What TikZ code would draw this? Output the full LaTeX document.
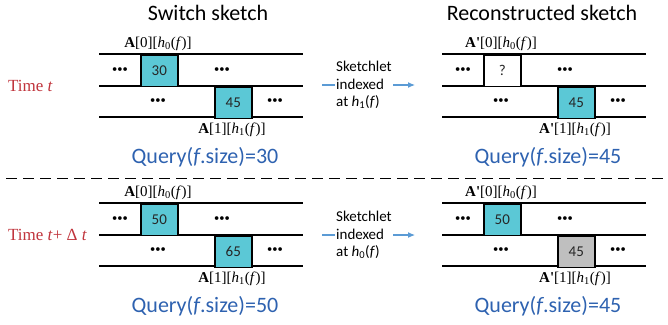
\documentclass[tikz,border=0pt]{standalone}
\usepackage{fontspec}
\setmainfont{Carlito}
\newfontfamily\tnr{Liberation Serif}
\usetikzlibrary{arrows.meta}
\definecolor{cellc}{HTML}{5BC8D6}
\definecolor{qblue}{HTML}{2E62B0}
\definecolor{tred}{HTML}{C0343C}
\definecolor{arrc}{HTML}{5B9BD5}
\definecolor{grayc}{HTML}{BFBFBF}
\tikzset{
  cell/.style={draw, line width=1.5pt, minimum width=37pt, minimum height=31.5pt, inner sep=0pt, anchor=north west, font=\fontsize{15}{15}\selectfont, text=black!85},
  rowline/.style={line width=1.5pt},
  dotsn/.style={inner sep=0pt, font=\fontsize{10.5}{10.5}\selectfont},
  labn/.style={inner sep=0pt, font=\tnr\fontsize{15}{15}\selectfont},
  queryn/.style={inner sep=0pt, text=qblue, font=\fontsize{22}{22}\selectfont},
  titlen/.style={inner sep=0pt, font=\fontsize{22}{22}\selectfont},
  timen/.style={inner sep=0pt, anchor=west, text=tred, font=\tnr\fontsize{17}{17}\selectfont},
  skn/.style={inner sep=1pt, anchor=west, fill=white, align=left, font=\fontsize{15}{17.5}\selectfont},
  arrowline/.style={draw=arrc, line width=1.1pt, -{Latex[length=7pt,width=6pt]}},
  sepline/.style={line width=0.8pt, dash pattern=on 11pt off 6pt},
}
\newcommand\skpanel[9]{%
\begin{scope}[shift={(#1,#2)}]
  \draw[rowline] (99,54) -- (303,54);
  \draw[rowline] (99,86) -- (303,86);
  \draw[rowline] (99,117) -- (303,117);
  \node[cell, fill=#5] (#3c0) at (140,54) {#4};
  \node[cell, fill=#7] (#3c1) at (214,86) {#6};
  \node[dotsn] (#3d0) at (120,70) {•••};
  \node[dotsn] (#3d1) at (222,70) {•••};
  \node[dotsn] (#3d2) at (158,101) {•••};
  \node[dotsn] (#3d3) at (275,101) {•••};
  \node[labn] (#3l0) at (158,44) {\textbf{#8}[0][\textit{h}\textsubscript{0}(\textit{f})]};
  \node[labn] (#3l1) at (232,130) {\textbf{#8}[1][\textit{h}\textsubscript{1}(\textit{f})]};
  \node[queryn] (#3q) at (205,157) {Query(\textit{f}.size)=#9};
\end{scope}}
\begin{document}
\begin{tikzpicture}[x=1pt,y=-1pt]
\useasboundingbox (0,0) rectangle (668,324);
\node[titlen] (title1) at (208,13) {Switch sketch};
\node[titlen] (title2) at (542,13) {Reconstructed sketch};
\skpanel{0}{0}{a}{30}{cellc}{45}{cellc}{A}{30}
\skpanel{343}{0}{b}{?}{white}{45}{cellc}{A'}{45}
\skpanel{0}{149}{c}{50}{cellc}{65}{cellc}{A}{50}
\skpanel{343}{149}{d}{50}{cellc}{45}{grayc}{A'}{45}
\node[timen] (time1) at (8,86) {Time \textit{t}};
\node[timen] (time2) at (8,235) {Time \textit{t}+ Δ \textit{t}};
\coordinate (s1) at (322,85);
\coordinate (e1) at (415,85);
\draw[arrowline] (s1) -- (e1);
\node[skn] (sk1) at (335,85) {Sketchlet\\indexed\\at \textit{h}\textsubscript{1}(\textit{f})};
\coordinate (s2) at (322,235);
\coordinate (e2) at (415,235);
\draw[arrowline] (s2) -- (e2);
\node[skn] (sk2) at (335,235) {Sketchlet\\indexed\\at \textit{h}\textsubscript{0}(\textit{f})};
\coordinate (dl) at (6,178);
\coordinate (dr) at (668,178);
\draw[sepline] (dl) -- (dr);
\end{tikzpicture}
\end{document}
